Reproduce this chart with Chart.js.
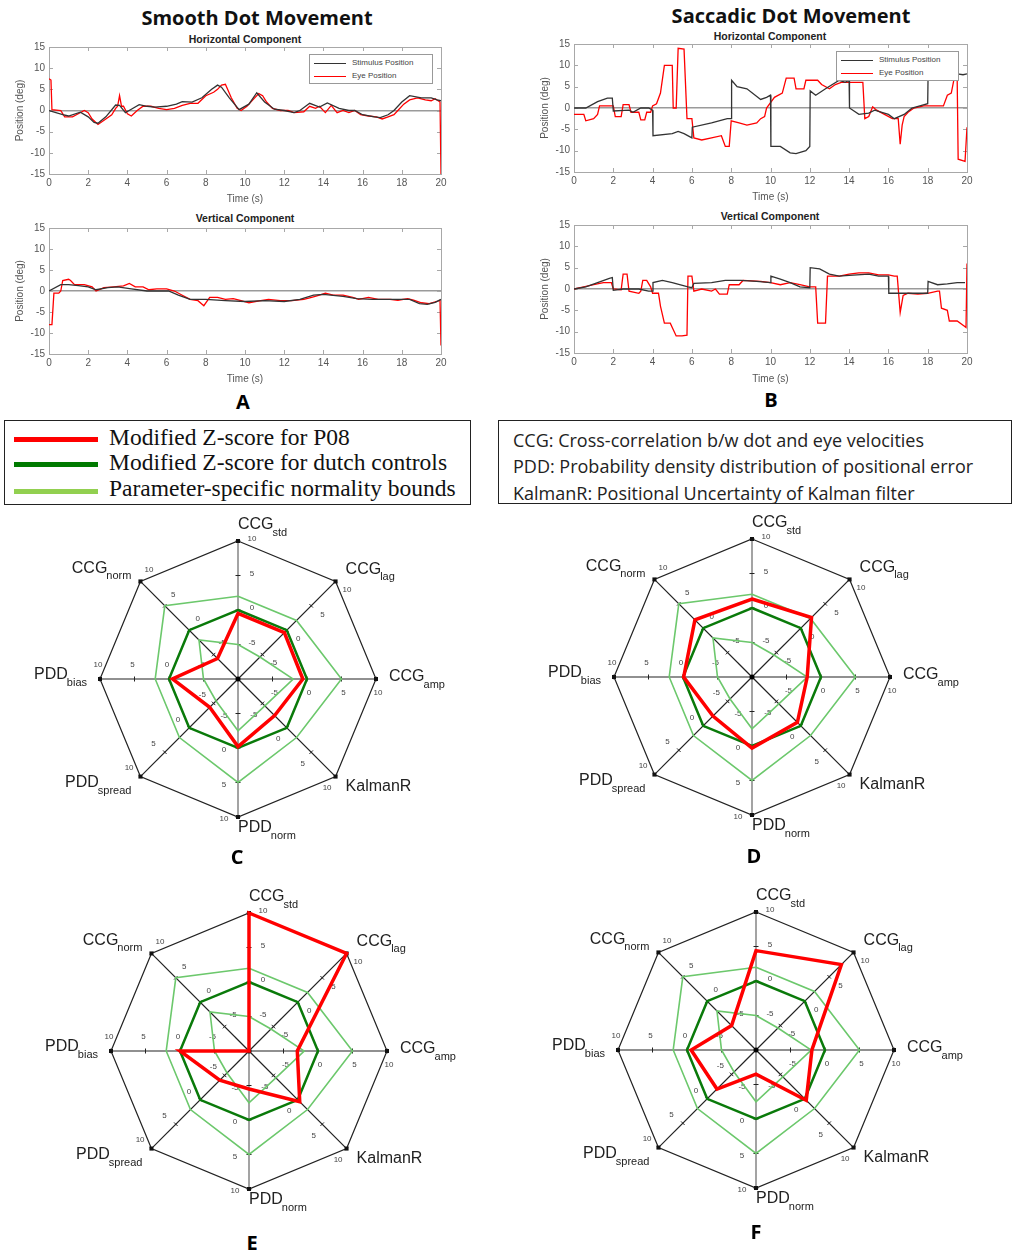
<!DOCTYPE html>
<html>
<head>
<meta charset="utf-8">
<title>Smooth and saccadic dot movement, modified Z-scores</title>
<script src="https://cdn.jsdelivr.net/npm/chart.js@4.4.1/dist/chart.umd.min.js"></script>
<style>
  body { margin: 0; background: #fff; width: 1016px; height: 1258px; position: relative; overflow: hidden;
         font-family: "Liberation Sans", Arial, sans-serif; }
  canvas { position: absolute; }
  .txt { position: absolute; white-space: nowrap; }
  .main-title { font-family: "Open Sans", sans-serif; font-weight: bold; font-size: 20px; color: #111; transform: translateX(-50%); }
  .sub-title { font-weight: bold; font-size: 10.5px; color: #222; transform: translateX(-50%); }
  .letter { font-family: "Open Sans", sans-serif; font-weight: bold; font-size: 20px; color: #000; transform: translateX(-50%); }
  .mini-legend { position: absolute; border: 1px solid #999; background: #fff; font-size: 8px; color: #444; }
  .mini-legend div { position: absolute; left: 4px; width: 32px; height: 0; }
  .mini-legend span { position: absolute; left: 42px; }
  .box { position: absolute; border: 1.5px solid #222; }
  .leg-line { position: absolute; height: 5px; width: 84px; left: 9px; }
  .leg-serif { position: absolute; left: 104px; font-family: "Liberation Serif", serif; font-size: 23.5px; color: #111; }
  .leg-sans { position: absolute; left: 14px; font-family: "Open Sans", sans-serif; font-size: 18px; color: #222; }
</style>
</head>
<body>

<!-- ── Titles / panel letters ───────────────── -->
<div class="txt main-title" style="left:257px;top:4px">Smooth Dot Movement</div>
<div class="txt main-title" style="left:791px;top:2px">Saccadic Dot Movement</div>
<div class="txt sub-title" style="left:245px;top:33px">Horizontal Component</div>
<div class="txt sub-title" style="left:245px;top:212px">Vertical Component</div>
<div class="txt sub-title" style="left:770px;top:30px">Horizontal Component</div>
<div class="txt sub-title" style="left:770px;top:210px">Vertical Component</div>

<canvas id="smoothH" width="460" height="180" style="left:0;top:25px"></canvas>
<canvas id="smoothV" width="460" height="180" style="left:0;top:205px"></canvas>
<canvas id="saccH" width="470" height="180" style="left:510px;top:25px"></canvas>
<canvas id="saccV" width="470" height="180" style="left:510px;top:205px"></canvas>

<div class="mini-legend" style="left:309px;top:54px;width:122px;height:28px">
  <div style="top:8px;border-top:1.5px solid #333"></div><span style="top:3px">Stimulus Position</span>
  <div style="top:21px;border-top:1.5px solid #ff0000"></div><span style="top:16px">Eye Position</span>
</div>
<div class="mini-legend" style="left:836px;top:51px;width:121px;height:28px">
  <div style="top:8px;border-top:1.5px solid #333"></div><span style="top:3px">Stimulus Position</span>
  <div style="top:21px;border-top:1.5px solid #ff0000"></div><span style="top:16px">Eye Position</span>
</div>

<div class="txt letter" style="left:243px;top:388px">A</div>
<div class="txt letter" style="left:771px;top:386px">B</div>

<!-- ── Middle legends ───────────────────────── -->
<div class="box" style="left:4px;top:420px;width:465px;height:83px">
  <div class="leg-line" style="top:16px;background:#ff0000"></div>
  <div class="leg-serif" style="top:3px">Modified Z-score for P08</div>
  <div class="leg-line" style="top:41px;background:#007a00"></div>
  <div class="leg-serif" style="top:28px">Modified Z-score for dutch controls</div>
  <div class="leg-line" style="top:68px;background:#92d050"></div>
  <div class="leg-serif" style="top:54px">Parameter-specific normality bounds</div>
</div>
<div class="box" style="left:498px;top:420px;width:512px;height:82px">
  <div class="leg-sans" style="top:7px">CCG: Cross-correlation b/w dot and eye velocities</div>
  <div class="leg-sans" style="top:33px">PDD: Probability density distribution of positional error</div>
  <div class="leg-sans" style="top:60px">KalmanR: Positional Uncertainty of Kalman filter</div>
</div>

<canvas id="radarC" width="460" height="340" style="left:8px;top:509px"></canvas>
<canvas id="radarD" width="460" height="340" style="left:522px;top:507px"></canvas>
<canvas id="radarE" width="460" height="340" style="left:19px;top:881px"></canvas>
<canvas id="radarF" width="460" height="340" style="left:526px;top:880px"></canvas>

<div class="txt letter" style="left:237px;top:843px">C</div>
<div class="txt letter" style="left:754px;top:842px">D</div>
<div class="txt letter" style="left:252px;top:1229px">E</div>
<div class="txt letter" style="left:756px;top:1218px">F</div>

<script>
/* =============================================
   Eye-tracking figure — time traces + spider plots
   ============================================= */

// ── Data: time traces (s, deg) ───────────────
const smoothHStimT = [0, 0.7, 1.0, 1.6, 2.0, 2.3, 2.5, 2.9, 3.4, 3.6, 3.9, 4.2, 4.6, 5.0, 5.4, 6.0, 6.5, 6.8, 7.3, 7.8, 8.3, 8.6, 8.8, 9.2, 9.7, 10.2, 10.6, 11.0, 11.5, 12.0, 12.5, 12.8, 13.3, 13.8, 14.2, 14.8, 15.3, 15.6, 16.0, 16.6, 16.9, 17.3, 17.6, 18.0, 18.4, 19.0, 19.5, 19.8, 20];
const smoothHStimY = [0, -1, -1.3, -0.4, -1.5, -2.8, -3, -1.5, 1.3, 1.2, -0.5, 0.3, 1.4, 1.0, 0.8, 1.0, 1.5, 2.1, 2.0, 3.0, 5.0, 6.0, 5.5, 3.0, 0.2, 1.5, 4.2, 2.0, 0.3, 0, -0.5, 0, 1.7, 0.8, 1.8, 0.5, 0, 0, -1.0, -1.5, -1.7, -1.0, 0, 2.0, 3.5, 3.0, 3.0, 2.5, 2.3];
const smoothHEyeT = [0, 0.1, 0.15, 0.6, 0.8, 1.2, 1.4, 1.8, 2.0, 2.2, 2.5, 2.9, 3.2, 3.4, 3.5, 3.6, 3.7, 3.8, 4.0, 4.2, 4.5, 4.8, 5.2, 5.6, 6.0, 6.4, 6.8, 7.2, 7.6, 8.0, 8.4, 8.6, 8.8, 9.0, 9.3, 9.6, 9.8, 10.1, 10.4, 10.7, 10.9, 11.1, 11.4, 11.8, 12.2, 12.5, 13.0, 13.3, 13.6, 13.8, 14.1, 14.4, 14.7, 15.0, 15.3, 15.6, 15.9, 16.3, 16.7, 17.0, 17.3, 17.6, 17.8, 18.1, 18.4, 18.8, 19.2, 19.5, 19.7, 19.95, 20];
const smoothHEyeY = [7.5, 7.2, 0.2, 0, -1.5, -1.5, -1, 0, -0.5, -2, -3.3, -2, -1, 0.5, 1, 3.5, 1, 1, -0.8, -1.3, 0, 1, 1, 0.5, 0.2, 0.5, 1.2, 1.7, 1.7, 3.5, 4.3, 5, 6, 6.2, 3, 0.5, 0, 1, 2.5, 4, 3.5, 2, 0.5, 0, 0, -0.5, -0.3, 1, 0.5, 1, -0.5, 1.2, -0.5, 0, -0.5, 0, -1, -1.3, -1.5, -2, -1.5, -1, 0, 1.5, 2.5, 3, 2.5, 2.3, 2.8, 2, -15];

const smoothVStimT = [0, 0.6, 1.0, 1.5, 2.0, 2.4, 3.0, 3.5, 4.2, 5.0, 5.5, 6.1, 6.6, 7.2, 8.0, 9.0, 10.0, 11.0, 12.0, 12.8, 13.5, 14.0, 15.0, 15.7, 16.5, 17.5, 18.4, 18.9, 19.3, 19.7, 20];
const smoothVStimY = [0, 1.5, 1.5, 1.3, 1.0, 0.3, 0.8, 1.0, 0.5, 0, 0, 0, -1, -2, -2, -2.3, -2.5, -2.3, -2.5, -2, -1, -0.8, -1.3, -1.8, -2, -2, -2, -3, -3.2, -2.7, -2];
const smoothVEyeT = [0, 0.15, 0.25, 0.5, 0.6, 0.7, 1.0, 1.1, 1.3, 1.8, 2.2, 2.4, 2.8, 3.3, 3.8, 4.1, 4.4, 4.8, 5.1, 5.5, 6.0, 6.4, 6.8, 7.2, 7.6, 7.9, 8.2, 8.6, 9.0, 9.4, 9.8, 10.2, 10.8, 11.2, 11.8, 12.4, 13.0, 13.4, 13.8, 14.1, 14.5, 15.0, 15.5, 15.8, 16.3, 16.8, 17.4, 17.8, 18.3, 18.6, 19.0, 19.4, 19.8, 19.95, 20];
const smoothVEyeY = [-8, -8, -0.5, -0.5, 0, 2.5, 2.8, 2.5, 1.5, 1.5, 1, 0, 0.8, 1, 1.2, 1.8, 1, 1, 0.3, 0.5, 0.5, 0, -1, -2, -2.3, -3.5, -1.5, -1.5, -2, -1.8, -2.3, -2.8, -2.3, -2, -2.3, -2.3, -2, -1.5, -1, -0.5, -1, -1, -1.5, -2, -1.5, -2, -2, -2.2, -1.8, -2.2, -2.8, -3, -2.5, -2.2, -13];

const saccHStimT = [0, 0.6, 1.2, 1.7, 1.95, 2.0, 2.8, 3.0, 3.4, 3.8, 4.0, 4.02, 5.0, 5.3, 5.6, 6.0, 6.02, 7.0, 7.8, 8.0, 8.02, 8.3, 8.8, 9.5, 9.8, 10.0, 10.02, 10.5, 11.0, 11.3, 11.8, 12.0, 12.02, 12.3, 12.8, 13.5, 13.8, 14.0, 14.02, 14.5, 15.0, 15.3, 16.0, 16.3, 16.8, 17.2, 17.6, 18.0, 18.02, 18.3, 19.0, 19.5, 19.8, 20];
const saccHStimY = [0, 0, 1.5, 2.3, 2.3, -0.7, -0.5, -1, 0, 0, -0.5, -6.5, -6, -5.5, -6, -7, -4.5, -3.5, -2.5, -2.5, 6.5, 5, 4.5, 2, 2.5, 3, -9, -9, -10.5, -10.7, -10, -9, 4, 3, 4.5, 6.5, 6, 6.5, 0, -1.5, -1.2, -0.5, -1.5, -2.5, -1.5, 0, 0.5, 1, 8, 8, 8, 8, 7.8, 8];
const saccHEyeT = [0, 0.5, 0.6, 1.0, 1.2, 1.3, 2.0, 2.1, 2.4, 2.5, 2.8, 2.9, 3.3, 3.4, 3.6, 3.7, 3.9, 4.0, 4.2, 4.4, 4.6, 5.0, 5.05, 5.2, 5.3, 5.6, 5.75, 6.0, 6.1, 6.5, 7.0, 7.5, 7.7, 7.9, 8.0, 8.4, 8.8, 9.3, 9.5, 9.7, 9.8, 10.2, 10.6, 10.8, 11.2, 11.3, 11.7, 11.8, 12.4, 12.6, 13.0, 13.3, 13.6, 14.7, 14.8, 15.0, 15.2, 15.4, 15.8, 16.2, 16.5, 16.6, 16.7, 16.8, 17.0, 17.3, 17.8, 18.8, 19.0, 19.2, 19.35, 19.5, 19.55, 19.9, 20];
const saccHEyeY = [-1.5, -1.5, -3, -2.5, -1.5, 0.5, 0.5, -2, -2, 0.8, 0.8, -1, -1, -2.8, -2.8, -1, -1, 0.5, 1, 3.5, 10, 10, 0, 0, 14, 13.8, -2.5, -2.5, -7, -7.5, -7, -6.5, -9, -9, -3, -3.5, -4, -3.5, -2.5, -2, 0, 2.5, 3.5, 7, 7, 4.5, 4.5, 6.5, 6.5, 5.5, 4.5, 5.5, 6, 6, -2.5, -2, 0.3, -0.5, -1.5, -2.5, -2.5, -8.5, -4, -2, -1, 0, 0.5, 0.5, 3, 3.5, 7, 7, -12, -12.5, -4.5];

const saccVStimT = [0, 0.6, 1.2, 1.8, 1.95, 2.0, 2.5, 3.3, 3.8, 4.0, 4.02, 4.5, 5.0, 5.8, 6.0, 6.1, 7.0, 7.7, 8.5, 9.3, 10.0, 10.02, 10.5, 11.0, 11.5, 12.0, 12.02, 12.5, 13.0, 13.5, 14.0, 15.0, 15.5, 16.0, 16.02, 16.5, 17.0, 17.5, 18.0, 18.02, 18.5, 19.0, 19.5, 19.9];
const saccVStimY = [0, 0.5, 1.5, 2.5, 2.7, -0.3, 0, 0, -0.5, -0.5, 1.5, 2, 1.5, 0.5, 0.3, 1.3, 1.5, 2, 2, 1.8, 1.5, 3, 2.3, 1.5, 0.5, 0.3, 5, 4.7, 3.5, 3, 3.2, 3.5, 3, 3, -1, -1, -1, -1, -1, 1.8, 1, 1.2, 1.5, 1.5];
const saccVEyeT = [0, 0.5, 1.0, 1.5, 1.9, 2.0, 2.4, 2.5, 2.7, 2.8, 3.3, 3.4, 3.5, 3.7, 3.9, 4.0, 4.3, 4.4, 4.6, 4.9, 5.0, 5.2, 5.5, 5.75, 5.8, 6.0, 6.1, 6.5, 7.0, 7.2, 7.4, 7.8, 7.9, 8.4, 8.6, 9.5, 10.0, 10.5, 11.0, 11.5, 12.0, 12.3, 12.4, 12.8, 12.9, 13.5, 14.0, 14.5, 15.0, 15.5, 16.0, 16.3, 16.45, 16.6, 16.75, 17.0, 17.5, 18.0, 18.5, 18.6, 18.7, 19.0, 19.1, 19.5, 19.8, 19.95, 20];
const saccVEyeY = [0, 0.5, 1, 1.5, 1.5, 0, -0.2, 3.5, 3.5, -0.5, -1, -0.5, 2, 2, 0.5, -1, -1, -4, -8, -8, -9, -11, -11, -10.8, 3, 3, -0.5, 0, -0.5, 0, -1.2, -1.2, 1, 1, 2, 1.8, 1.5, 1, 1.5, 1, 0.5, 0.5, -8, -8, 3, 3, 3.5, 3.8, 3.8, 3.3, 3.3, 3, 3, -5.5, -1.5, -1, -1.2, -1, -0.5, -0.5, -4.5, -5, -7.5, -7.5, -8.5, -9, 6];

// ── Data: spider plots (modified Z-score) ────
const paramNames = ['CCG', 'CCG', 'CCG', 'KalmanR', 'PDD', 'PDD', 'PDD', 'CCG'];
const paramSubs = ['std', 'lag', 'amp', '', 'norm', 'spread', 'bias', 'norm'];
const radarTicks = [10, 5, 0, -5];
const controlsZ = [0, 0, 0, 0, 0, 0, 0, 0];
const upperBound = [2, 2, 5, 2, 5, 2, 2, 5];
const lowerBound = [-5, -5.5, -2, -4.5, -2.5, -5.5, -5, -2];
const p08C = [-0.5, -0.5, -0.6, -2.5, -0.2, -4.2, -0.5, -5.8];
const p08D = [1.3, 2.2, -2, -0.7, 0.3, -2, -0.1, 1.7];
const p08E = [10, 10, -3, 0.4, -4.5, -4, 0, -10];
const p08F = [4.4, 7.5, -1.9, 0.3, -6.5, -2, -0.6, -5];

const RED = '#ff0000';
const DARK_GREEN = '#0a7a0a';
const LIGHT_GREEN = '#6cc86c';

// ── Line charts ──────────────────────────────
function toPoints(ts, ys) {
  return ts.map((t, i) => ({ x: t, y: ys[i] }));
}

// MATLAB-style box with inward ticks
const boxPlugin = {
  id: 'box',
  beforeDatasetsDraw(chart) {
    const { ctx, chartArea: a } = chart;
    const sx = chart.scales.x, sy = chart.scales.y;
    ctx.save();
    ctx.strokeStyle = '#a8a8a8';
    ctx.lineWidth = 1;
    ctx.strokeRect(a.left + 0.5, a.top + 0.5, a.right - a.left, a.bottom - a.top);
    ctx.beginPath();
    sx.ticks.forEach(t => {
      const x = Math.round(sx.getPixelForValue(t.value)) + 0.5;
      ctx.moveTo(x, a.bottom); ctx.lineTo(x, a.bottom - 4);
      ctx.moveTo(x, a.top); ctx.lineTo(x, a.top + 4);
    });
    sy.ticks.forEach(t => {
      const y = Math.round(sy.getPixelForValue(t.value)) + 0.5;
      ctx.moveTo(a.left, y); ctx.lineTo(a.left + 4, y);
      ctx.moveTo(a.right, y); ctx.lineTo(a.right - 4, y);
    });
    ctx.stroke();
    ctx.restore();
  }
};

function makeTrace(id, stim, eye, dims) {
  const tickFont = { family: 'Liberation Sans', size: 10 };
  return new Chart(document.getElementById(id), {
    type: 'line',
    data: {
      datasets: [
        { label: 'Stimulus Position', data: stim, borderColor: '#333', borderWidth: 1.3 },
        { label: 'Eye Position', data: eye, borderColor: RED, borderWidth: 1.3 }
      ]
    },
    options: {
      responsive: false,
      animation: false,
      events: [],
      layout: { padding: { left: 0, right: dims.right, top: dims.top, bottom: 0 } },
      elements: { point: { radius: 0 }, line: { tension: 0 } },
      plugins: { legend: { display: false }, tooltip: { enabled: false } },
      scales: {
        x: {
          type: 'linear', min: 0, max: 20,
          ticks: { stepSize: 2, color: '#555', font: tickFont, padding: 3, maxRotation: 0 },
          grid: { display: false, drawTicks: false },
          border: { display: false },
          title: { display: true, text: 'Time (s)', color: '#555', font: tickFont, padding: { top: 0, bottom: dims.xTitlePad } },
          afterFit: s => { s.height = dims.xh; }
        },
        y: {
          min: -15, max: 15,
          ticks: { stepSize: 5, color: '#555', font: tickFont, padding: 4 },
          grid: {
            drawTicks: false,
            color: c => (c.tick && c.tick.value === 0 ? '#9a9a9a' : 'rgba(0,0,0,0)'),
            lineWidth: c => (c.tick && c.tick.value === 0 ? 1.6 : 0)
          },
          border: { display: false },
          title: { display: true, text: 'Position (deg)', color: '#555', font: tickFont, padding: { top: dims.yTitlePad, bottom: 0 } },
          afterFit: s => { s.width = dims.yw; }
        }
      }
    },
    plugins: [boxPlugin]
  });
}

makeTrace('smoothH', toPoints(smoothHStimT, smoothHStimY), toPoints(smoothHEyeT, smoothHEyeY),
  { yw: 49, xh: 31, right: 19, top: 22, yTitlePad: 14, xTitlePad: 0 });
makeTrace('smoothV', toPoints(smoothVStimT, smoothVStimY), toPoints(smoothVEyeT, smoothVEyeY),
  { yw: 49, xh: 31, right: 19, top: 23, yTitlePad: 14, xTitlePad: 0 });
makeTrace('saccH', toPoints(saccHStimT, saccHStimY), toPoints(saccHEyeT, saccHEyeY),
  { yw: 64, xh: 33, right: 13, top: 19, yTitlePad: 29, xTitlePad: 2 });
makeTrace('saccV', toPoints(saccVStimT, saccVStimY), toPoints(saccVEyeT, saccVEyeY),
  { yw: 64, xh: 32, right: 13, top: 20, yTitlePad: 29, xTitlePad: 0 });

// ── Spider plots ─────────────────────────────
function drawSubLabel(ctx, main, sub, x, y, alignRight) {
  ctx.font = '16px "Liberation Sans"';
  const wMain = ctx.measureText(main).width;
  ctx.font = '11px "Liberation Sans"';
  const wSub = sub ? ctx.measureText(sub).width : 0;
  const x0 = alignRight ? x - wMain - wSub + 1 : x;
  ctx.textAlign = 'left';
  ctx.textBaseline = 'middle';
  ctx.font = '16px "Liberation Sans"';
  ctx.fillText(main, x0, y);
  if (sub) {
    ctx.font = '11px "Liberation Sans"';
    ctx.fillText(sub, x0 + wMain - 1, y + 8);
  }
}

const spiderPlugin = {
  id: 'spider',
  beforeDatasetsDraw(chart) {
    const s = chart.scales.r;
    const ctx = chart.ctx;
    const cx = s.xCenter, cy = s.yCenter;
    ctx.save();
    paramNames.forEach((name, i) => {
      const end = s.getPointPositionForValue(i, s.max);
      const len = Math.hypot(end.x - cx, end.y - cy);
      const ux = (end.x - cx) / len, uy = (end.y - cy) / len;
      const px = -uy, py = ux;            // clockwise perpendicular
      // tick marks + tick labels along every spoke
      ctx.strokeStyle = '#222';
      ctx.lineWidth = 1;
      ctx.fillStyle = '#444';
      ctx.font = '8px "Liberation Sans"';
      ctx.textAlign = 'center';
      ctx.textBaseline = 'middle';
      radarTicks.forEach(v => {
        const p = s.getPointPositionForValue(i, v);
        ctx.beginPath();
        ctx.moveTo(p.x - px * 2.5, p.y - py * 2.5);
        ctx.lineTo(p.x + px * 2.5, p.y + py * 2.5);
        ctx.stroke();
        ctx.fillText(String(v), p.x + px * 14 + ux * 2, p.y + py * 14 + uy * 2);
      });
      ctx.fillStyle = '#111';
      ctx.fillRect(end.x - 2, end.y - 2, 4, 4);
      // parameter label
      ctx.fillStyle = '#222';
      if (Math.abs(ux) < 0.3) {
        drawSubLabel(ctx, name, paramSubs[i], cx, end.y + (uy < 0 ? -16 : 11), false);
      } else if (ux > 0) {
        const side = Math.abs(uy) < 0.3;
        drawSubLabel(ctx, name, paramSubs[i], end.x + (side ? 13 : 10),
          end.y + (side ? -2 : (uy < 0 ? -12 : 10)), false);
      } else {
        const side = Math.abs(uy) < 0.3;
        drawSubLabel(ctx, name, paramSubs[i], end.x - (side ? 13 : 9),
          end.y + (side ? -4 : (uy < 0 ? -13 : 6)), true);
      }
    });
    ctx.fillStyle = '#000';
    ctx.beginPath();
    ctx.arc(cx, cy, 2.5, 0, Math.PI * 2);
    ctx.fill();
    ctx.restore();
  }
};

function makeSpider(id, p08) {
  return new Chart(document.getElementById(id), {
    type: 'radar',
    data: {
      labels: paramNames.map((n, i) => n + (paramSubs[i] ? ' ' + paramSubs[i] : '')),
      datasets: [
        { label: 'Modified Z-score for P08', data: p08, borderColor: RED, borderWidth: 3.5, order: 0 },
        { label: 'Modified Z-score for dutch controls', data: controlsZ, borderColor: DARK_GREEN, borderWidth: 2.5, order: 1 },
        { label: 'Upper normality bound', data: upperBound, borderColor: LIGHT_GREEN, borderWidth: 1.6, order: 2 },
        { label: 'Lower normality bound', data: lowerBound, borderColor: LIGHT_GREEN, borderWidth: 1.6, order: 3 }
      ]
    },
    options: {
      responsive: false,
      animation: false,
      events: [],
      layout: { padding: { left: 92, right: 92, top: 32, bottom: 32 } },
      elements: { point: { radius: 0 }, line: { tension: 0, fill: false, borderJoinStyle: 'miter' } },
      plugins: { legend: { display: false }, tooltip: { enabled: false } },
      scales: {
        r: {
          min: -10, max: 10,
          ticks: { display: false, stepSize: 5 },
          pointLabels: { display: false },
          grid: {
            color: c => (c.tick && c.tick.value === 10 ? '#222' : 'rgba(0,0,0,0)'),
            lineWidth: 1.2
          },
          angleLines: {
            color: c => (c.index === 0 || c.index === 4 ? '#666' : '#222'),
            lineWidth: 1.2
          }
        }
      }
    },
    plugins: [spiderPlugin]
  });
}

makeSpider('radarC', p08C);
makeSpider('radarD', p08D);
makeSpider('radarE', p08E);
makeSpider('radarF', p08F);
</script>
</body>
</html>
